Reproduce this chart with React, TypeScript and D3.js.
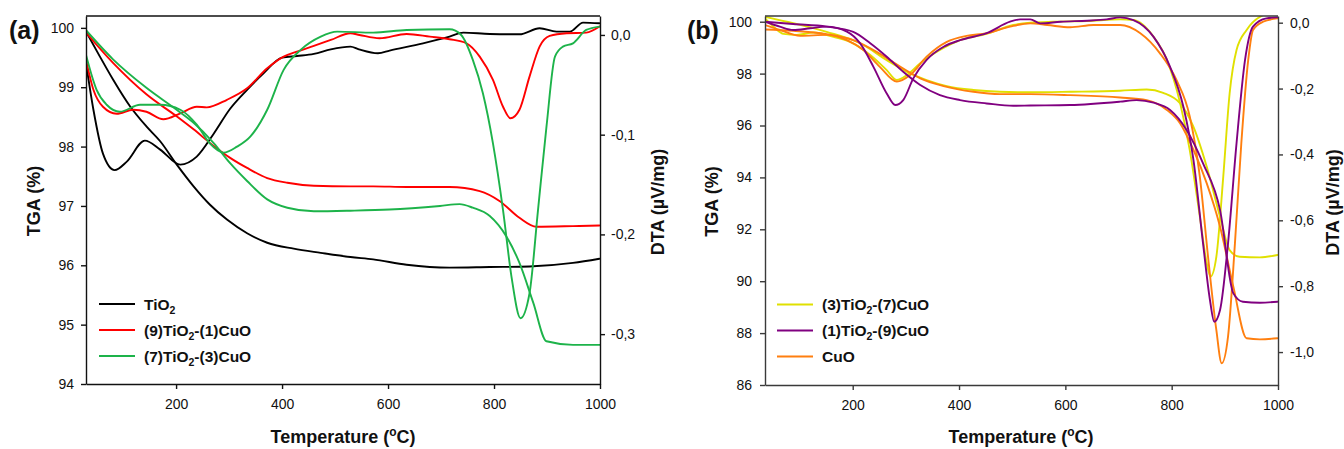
import React, { useEffect, useRef } from 'react';
import * as d3 from 'd3';

type Pt = [number, number];

// ---------- tick values ----------
const tempTicks = [200, 400, 600, 800, 1000];
const tgaTicksA = [94, 95, 96, 97, 98, 99, 100];
const dtaTicksA = [-0.3, -0.2, -0.1, 0];
const tgaTicksB = [86, 88, 90, 92, 94, 96, 98, 100];
const dtaTicksB = [-1.0, -0.8, -0.6, -0.4, -0.2, 0];

// ---------- panel (a) data: [temperature °C, value] ----------
const tio2Tga: Pt[] = [[30,99.94],[56,99.52],[81,99.13],[113,98.68],[144,98.34],[170,98.09],[201,97.70],[233,97.33],[264,97.02],[296,96.77],[334,96.54],[372,96.38],[422,96.28],[473,96.21],[529,96.14],[572,96.10],[635,96.01],[716,95.96],[792,95.97],[867,95.98],[949,96.04],[999,96.11]];
const tio2Dta: Pt[] = [[30,-0.028],[44,-0.075],[62,-0.119],[84,-0.1355],[107,-0.127],[141,-0.106],[170,-0.115],[208,-0.130],[239,-0.122],[271,-0.099],[302,-0.074],[334,-0.055],[365,-0.0385],[400,-0.0227],[428,-0.0211],[460,-0.019],[492,-0.0144],[529,-0.0117],[545,-0.0144],[581,-0.0184],[603,-0.0157],[666,-0.0084],[716,-0.0017],[742,0.0023],[792,0.001],[848,0.0007],[886,0.0067],[918,0.0033],[943,0.0033],[968,0.0124],[999,0.0117]];
const red91Tga: Pt[] = [[30,99.92],[81,99.41],[144,98.88],[201,98.51],[233,98.29],[271,98.01],[302,97.81],[334,97.64],[372,97.47],[410,97.39],[460,97.34],[529,97.33],[572,97.33],[635,97.32],[716,97.32],[773,97.25],[811,97.08],[848,96.80],[880,96.65],[949,96.66],[999,96.67]];
const red91Dta: Pt[] = [[30,-0.025],[44,-0.055],[62,-0.072],[88,-0.079],[119,-0.075],[144,-0.077],[176,-0.0846],[208,-0.0786],[239,-0.072],[258,-0.0726],[296,-0.065],[334,-0.0535],[372,-0.0334],[403,-0.0217],[428,-0.0167],[460,-0.011],[492,-0.005],[529,0.0017],[546,0],[584,-0.0033],[635,0.001],[679,-0.0017],[716,-0.0043],[748,-0.0084],[773,-0.0217],[798,-0.045],[817,-0.072],[831,-0.0836],[848,-0.075],[867,-0.0418],[886,-0.0117],[905,-0.001],[937,0.0017],[974,0.0023],[999,0.0084]];
const green73Tga: Pt[] = [[30,99.96],[81,99.47],[144,98.99],[201,98.62],[233,98.40],[271,98.06],[302,97.72],[334,97.42],[372,97.11],[410,96.97],[460,96.91],[529,96.92],[603,96.94],[698,97.00],[735,97.03],[760,96.97],[792,96.83],[823,96.49],[848,96.04],[874,95.37],[899,94.72],[949,94.66],[999,94.66]];
const green73Dta: Pt[] = [[30,-0.020],[50,-0.055],[69,-0.070],[94,-0.077],[132,-0.070],[170,-0.070],[208,-0.075],[239,-0.090],[264,-0.109],[290,-0.118],[315,-0.112],[340,-0.102],[372,-0.075],[403,-0.035],[435,-0.015],[473,-0.0017],[504,0.0033],[572,0.0023],[635,0.005],[716,0.0057],[738,0],[760,-0.025],[779,-0.0585],[798,-0.1087],[817,-0.1756],[833,-0.2425],[850,-0.284],[867,-0.259],[883,-0.1756],[899,-0.092],[915,-0.0217],[930,-0.0117],[949,-0.0084],[974,0.005],[999,0.0084]];

// ---------- panel (b) data ----------
const yellow37Tga: Pt[] = [[35,100.19],[88,99.94],[151,99.61],[214,99.17],[264,98.52],[302,98.07],[339,97.75],[377,97.52],[427,97.37],[477,97.30],[534,97.28],[609,97.30],[703,97.34],[753,97.39],[784,97.26],[816,96.85],[841,95.95],[866,94.41],[891,92.48],[909,91.20],[928,90.94],[966,90.92],[999,91.01]];
const yellow37Dta: Pt[] = [[35,0.013],[51,-0.012],[70,-0.034],[95,-0.037],[126,-0.030],[164,-0.043],[195,-0.058],[233,-0.098],[264,-0.144],[283,-0.174],[302,-0.159],[327,-0.123],[364,-0.083],[402,-0.053],[452,-0.034],[502,-0.007],[534,0],[578,0.003],[641,0.005],[703,0.010],[728,0.008],[766,-0.043],[791,-0.113],[816,-0.245],[834,-0.387],[853,-0.589],[866,-0.731],[873,-0.771],[884,-0.711],[897,-0.468],[909,-0.215],[922,-0.083],[941,-0.022],[972,0.023],[990,0.03]];
const purple19Tga: Pt[] = [[35,100.0],[88,99.91],[151,99.81],[201,99.61],[233,99.17],[264,98.65],[295,98.07],[327,97.56],[364,97.17],[402,96.98],[452,96.85],[502,96.76],[534,96.77],[609,96.79],[703,96.92],[734,96.98],[766,96.88],[797,96.60],[828,95.83],[859,94.54],[891,92.74],[916,89.53],[934,89.21],[966,89.17],[999,89.21]];
const purple19Dta: Pt[] = [[35,0.003],[63,-0.012],[88,-0.022],[120,-0.017],[151,-0.012],[189,-0.027],[214,-0.063],[239,-0.134],[264,-0.215],[280,-0.25],[295,-0.235],[314,-0.169],[339,-0.113],[371,-0.073],[402,-0.053],[452,-0.032],[496,0.003],[515,0.010],[534,0.010],[553,-0.002],[591,0.003],[641,0.006],[678,0.010],[703,0.016],[728,0.008],[766,-0.043],[797,-0.134],[822,-0.255],[841,-0.417],[859,-0.67],[872,-0.842],[880,-0.908],[891,-0.872],[906,-0.67],[922,-0.366],[938,-0.113],[953,-0.012],[978,0.013],[999,0.016]];
const cuoTga: Pt[] = [[35,99.70],[88,99.65],[151,99.52],[201,99.29],[245,98.84],[289,98.27],[327,97.82],[371,97.52],[427,97.30],[477,97.21],[534,97.21],[609,97.17],[703,97.08],[753,96.98],[791,96.60],[816,96.08],[841,95.06],[866,93.77],[891,92.10],[916,89.79],[941,87.80],[966,87.76],[999,87.80]];
const cuoDta: Pt[] = [[35,-0.007],[63,-0.022],[101,-0.040],[151,-0.037],[189,-0.053],[220,-0.083],[251,-0.134],[283,-0.179],[308,-0.159],[339,-0.103],[377,-0.058],[414,-0.040],[452,-0.032],[496,-0.012],[534,-0.002],[566,-0.007],[609,-0.014],[653,-0.007],[703,-0.007],[741,-0.032],[778,-0.093],[809,-0.174],[834,-0.285],[853,-0.468],[869,-0.72],[884,-0.933],[894,-1.034],[906,-0.953],[919,-0.67],[931,-0.366],[944,-0.113],[953,-0.022],[972,0.003],[999,0.013]];

// legend labels: [before subscript, subscript, after subscript]
const legendA: [string, string, string][] = [['TiO', '2', ''], ['(9)TiO', '2', '-(1)CuO'], ['(7)TiO', '2', '-(3)CuO']];
const legendB: [string, string, string][] = [['(3)TiO', '2', '-(7)CuO'], ['(1)TiO', '2', '-(9)CuO'], ['CuO', '', '']];

const colorsA = ['#000000', '#ff0000', '#1db34a'];
const colorsB = ['#e0e000', '#800080', '#ff7f0f'];

const FONT = '"Liberation Sans", Arial, Helvetica, sans-serif';

interface Series { data: Pt[]; color: string; axis: 'L' | 'R'; }
interface PanelCfg {
  id: string; label: string; left: number; right: number; top: number; bottom: number;
  xDomain: [number, number]; tgaDomain: [number, number]; dtaDomain: [number, number];
  tgaTicks: number[]; dtaTicks: number[]; axisColor: string;
  series: Series[]; legend: [string, string, string][]; legendColors: string[];
  legendX: number; legendY: number; labelX: number;
  tgaLabelX: number; dtaLabelX: number; tempLabelX: number;
  leftPad: number; rightPad: number;
}

const panels: PanelCfg[] = [
  {
    id: 'a', label: '(a)', left: 86, right: 600, top: 16, bottom: 384,
    xDomain: [30, 1000], tgaDomain: [94, 100.2], dtaDomain: [-0.35, 0.019],
    tgaTicks: tgaTicksA, dtaTicks: dtaTicksA, axisColor: '#111',
    series: [
      { data: tio2Tga, color: colorsA[0], axis: 'L' },
      { data: tio2Dta, color: colorsA[0], axis: 'R' },
      { data: red91Tga, color: colorsA[1], axis: 'L' },
      { data: red91Dta, color: colorsA[1], axis: 'R' },
      { data: green73Tga, color: colorsA[2], axis: 'L' },
      { data: green73Dta, color: colorsA[2], axis: 'R' },
    ],
    legend: legendA, legendColors: colorsA, legendX: 99, legendY: 304, labelX: 9,
    tgaLabelX: 39.5, dtaLabelX: 664, tempLabelX: 343, leftPad: 7, rightPad: 6,
  },
  {
    id: 'b', label: '(b)', left: 765, right: 1278, top: 16, bottom: 385,
    xDomain: [35, 1000], tgaDomain: [86, 100.22], dtaDomain: [-1.1, 0.0203],
    tgaTicks: tgaTicksB, dtaTicks: dtaTicksB, axisColor: '#3a3a3a',
    series: [
      { data: yellow37Tga, color: colorsB[0], axis: 'L' },
      { data: yellow37Dta, color: colorsB[0], axis: 'R' },
      { data: cuoTga, color: colorsB[2], axis: 'L' },
      { data: cuoDta, color: colorsB[2], axis: 'R' },
      { data: purple19Tga, color: colorsB[1], axis: 'L' },
      { data: purple19Dta, color: colorsB[1], axis: 'R' },
    ],
    legend: legendB, legendColors: colorsB, legendX: 777, legendY: 304.5, labelX: 687,
    tgaLabelX: 718, dtaLabelX: 1339, tempLabelX: 1021, leftPad: 8, rightPad: 7,
  },
];

const commaFmt = (d: number) => (Math.abs(d) < 1e-9 ? 0 : d).toFixed(1).replace('.', ',');

export default function App() {
  const ref = useRef<SVGSVGElement | null>(null);

  useEffect(() => {
    const svg = d3.select(ref.current);
    svg.selectAll('*').remove();
    const defs = svg.append('defs');

    panels.forEach((p) => {
      const x = d3.scaleLinear().domain(p.xDomain).range([p.left, p.right]);
      const yL = d3.scaleLinear().domain(p.tgaDomain).range([p.bottom, p.top]);
      const yR = d3.scaleLinear().domain(p.dtaDomain).range([p.bottom, p.top]);
      const g = svg.append('g');

      defs.append('clipPath').attr('id', 'clip-' + p.id)
        .append('rect').attr('x', p.left).attr('y', p.top)
        .attr('width', p.right - p.left).attr('height', p.bottom - p.top);

      // curves
      const lines = g.append('g').attr('clip-path', `url(#clip-${p.id})`);
      p.series.forEach((s) => {
        const ys = s.axis === 'L' ? yL : yR;
        const line = d3.line<Pt>().x((d) => x(d[0])).y((d) => ys(d[1])).curve(d3.curveMonotoneX);
        lines.append('path').attr('d', line(s.data) || '')
          .attr('fill', 'none').attr('stroke', s.color).attr('stroke-width', 1.9)
          .attr('stroke-linejoin', 'round').attr('stroke-linecap', 'round');
      });

      const styleAxis = (sel: any) => {
        sel.attr('font-family', FONT).attr('font-size', 14);
        sel.selectAll('path.domain').attr('stroke', p.axisColor).attr('stroke-width', 1.4);
        sel.selectAll('.tick line').attr('stroke', p.axisColor).attr('stroke-width', 1.4);
        sel.selectAll('.tick text').attr('fill', '#111');
      };

      g.append('g').attr('transform', `translate(0,${p.bottom})`)
        .call(d3.axisBottom(x).tickValues(tempTicks).tickSize(5).tickSizeOuter(0).tickPadding(10).tickFormat(d3.format('d')))
        .call(styleAxis);
      g.append('g').attr('transform', `translate(${p.left},0)`)
        .call(d3.axisLeft(yL).tickValues(p.tgaTicks).tickSize(5).tickSizeOuter(0).tickPadding(p.leftPad).tickFormat(d3.format('d')))
        .call(styleAxis);
      g.append('g').attr('transform', `translate(${p.right},0)`)
        .call(d3.axisRight(yR).tickValues(p.dtaTicks).tickSize(5).tickSizeOuter(0).tickPadding(p.rightPad).tickFormat((d: any) => commaFmt(+d)))
        .call(styleAxis);
      // top frame line
      g.append('line').attr('x1', p.left).attr('x2', p.right).attr('y1', p.top).attr('y2', p.top)
        .attr('stroke', p.axisColor).attr('stroke-width', 1.4);

      // panel label
      g.append('text').attr('x', p.labelX).attr('y', 39).attr('font-family', FONT)
        .attr('font-size', 25).attr('font-weight', 'bold').attr('fill', '#111').text(p.label);

      // axis titles
      const midY = (p.top + p.bottom) / 2;
      g.append('text').attr('transform', `translate(${p.tgaLabelX},${midY + 1}) rotate(-90)`)
        .attr('text-anchor', 'middle').attr('font-family', FONT).attr('font-size', 18)
        .attr('font-weight', 'bold').attr('fill', '#111').text('TGA (%)');
      g.append('text').attr('transform', `translate(${p.dtaLabelX},${midY + 2}) rotate(-90)`)
        .attr('text-anchor', 'middle').attr('font-family', FONT).attr('font-size', 18)
        .attr('font-weight', 'bold').attr('fill', '#111').text('DTA (µV/mg)');
      const tl = g.append('text').attr('x', p.tempLabelX).attr('y', 443).attr('text-anchor', 'middle')
        .attr('font-family', FONT).attr('font-size', 18).attr('font-weight', 'bold').attr('fill', '#111');
      tl.append('tspan').text('Temperature (');
      tl.append('tspan').attr('dy', -7).attr('font-size', 12).text('o');
      tl.append('tspan').attr('dy', 7).text('C)');

      // legend
      p.legend.forEach((lab, i) => {
        const ly = p.legendY + i * 26;
        g.append('line').attr('x1', p.legendX).attr('x2', p.legendX + 36).attr('y1', ly).attr('y2', ly)
          .attr('stroke', p.legendColors[i]).attr('stroke-width', 2);
        const t = g.append('text').attr('x', p.legendX + 45).attr('y', ly + 5.5)
          .attr('font-family', FONT).attr('font-size', 15.5).attr('font-weight', 'bold').attr('fill', '#111');
        t.append('tspan').text(lab[0]);
        if (lab[1]) {
          t.append('tspan').attr('dy', 4).attr('font-size', 10.5).text(lab[1]);
          t.append('tspan').attr('dy', -4).text(lab[2]);
        }
      });
    });
  }, []);

  return (
    <div style={{ position: 'absolute', left: 0, top: 0, background: '#fff' }}>
      <svg ref={ref} width={1344} height={449} style={{ display: 'block' }} />
    </div>
  );
}
